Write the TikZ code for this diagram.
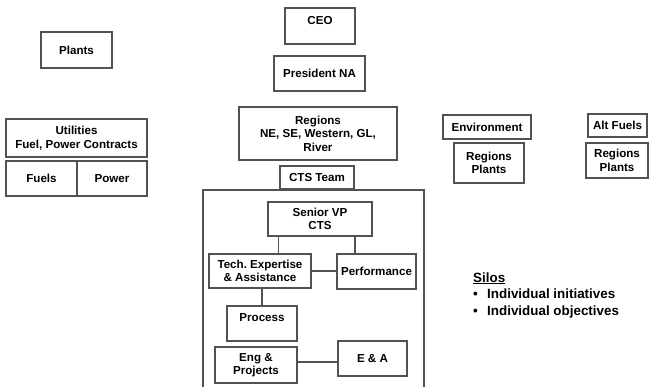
\documentclass[tikz,border=0pt]{standalone}
\usepackage{fontspec}
\setmainfont{Liberation Sans}
\usepackage{tikz}
\usetikzlibrary{calc}
\frenchspacing

\begin{document}
\begin{tikzpicture}[x=1pt, y=-1pt,
    orgbox/.style={draw=black!68, line width=1.6pt, align=center, inner sep=2pt,
      font=\fontsize{11.6}{13.6}\selectfont\bfseries},
    orgline/.style={draw=black!68, line width=1.4pt}]
        \pgfmathsetmacro{\tl}{203}
        \pgfmathsetmacro{\tr}{424}
        \useasboundingbox (0,0) rectangle (651,386);
        % left column
        \node[orgbox, minimum width=71pt, minimum height=36pt] (plants) at (76.5,50) {Plants};
        \node[orgbox, minimum width=141pt, minimum height=38pt] (util) at (76.5,138) {Utilities\\Fuel, Power Contracts};
        \node[orgbox, minimum width=71pt, minimum height=35pt] (fuels) at (41.5,178.5) {Fuels};
        \node[orgbox, minimum width=70pt, minimum height=35pt] (power) at (112,178.5) {Power};
        % centre column
        \node[orgbox, minimum width=70pt, minimum height=36pt, text height=9pt, text depth=12pt] (ceo) at (320,26) {CEO};
        \node[orgbox, minimum width=91pt, minimum height=35pt] (pres) at (319.5,73.5) {President NA};
        \node[orgbox, minimum width=158pt, minimum height=53pt] (regions) at (318,133.5) {Regions\\NE, SE, Western, GL,\\River};
        \node[orgbox, minimum width=74pt, minimum height=23pt] (cts) at (317,177.5) {CTS Team};
        % right column
        \node[orgbox, minimum width=88pt, minimum height=24pt] (env) at (487,127) {Environment};
        \node[orgbox, minimum width=70pt, minimum height=40pt] (envreg) at (489,163) {Regions\\Plants};
        \node[orgbox, minimum width=59pt, minimum height=23pt] (alt) at (617.5,125.5) {Alt Fuels};
        \node[orgbox, minimum width=62pt, minimum height=35pt] (altreg) at (617,160.5) {Regions\\Plants};
        % CTS team frame
        \coordinate (teamL) at (\tl,392);
        \coordinate (teamR) at (\tr,392);
        \draw[orgline] (teamL) |- (cts.south) -| (teamR);
        \node[orgbox, minimum width=104pt, minimum height=34pt] (svp) at (320,219) {Senior VP\\CTS};
        \node[orgbox, minimum width=102pt, minimum height=34pt] (tech) at (260,271) {Tech. Expertise\\\& Assistance};
        \node[orgbox, minimum width=79pt, minimum height=35pt] (perf) at (376.5,271.5) {Performance};
        \node[orgbox, minimum width=70pt, minimum height=35pt, inner sep=0pt, text height=9pt, text depth=14pt] (process) at (262,323.5) {Process};
        \node[orgbox, minimum width=82pt, minimum height=36pt] (eng) at (256,365) {Eng \&\\Projects};
        \node[orgbox, minimum width=69pt, minimum height=35pt] (ea) at (372.5,358.5) {E \& A};
        \draw[orgline] ([xshift=11pt]svp.south west) -- ([xshift=11pt]svp.south west |- tech.north);
        \draw[orgline] ([xshift=-18pt]svp.south east) -- ([xshift=-18pt]svp.south east |- perf.north);
        \draw[orgline] (tech.east) -- (tech.east -| perf.west);
        \draw[orgline] (process.north) -- (process.north |- tech.south);
        \draw[orgline] ([yshift=-3.5pt]ea.west) -- ([yshift=-3.5pt]ea.west -| eng.east);
        % silos note
        \node[anchor=base west, align=left, inner sep=0pt,
              font=\fontsize{13.4}{16.5}\selectfont\bfseries] (silos) at (473,315)
              {\underline{Silos}\\\makebox[14pt][l]{\textbullet}Individual initiatives\\\makebox[14pt][l]{\textbullet}Individual objectives};
\end{tikzpicture}
\end{document}
